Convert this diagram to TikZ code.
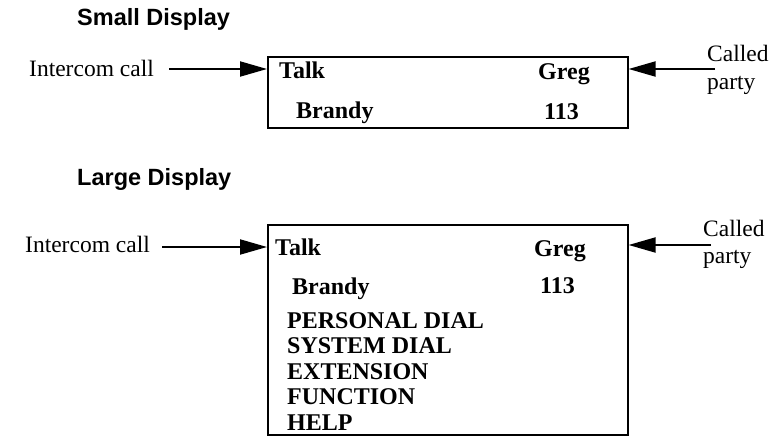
\documentclass[tikz,border=0pt]{standalone}
\usepackage{fontspec}
\setmainfont{Liberation Serif}
\newfontfamily\headfont{Liberation Sans}
\usetikzlibrary{arrows.meta}
\begin{document}
\begin{tikzpicture}[x=1pt,y=-1pt,
  font=\fontsize{23.5}{25}\selectfont,
  heading/.style={anchor=base west,inner sep=0pt,font=\fontsize{23.5}{25}\selectfont\headfont\bfseries},
  label/.style={anchor=base west,inner sep=0pt},
  boxtext/.style={anchor=base west,inner sep=0pt,font=\fontsize{24}{25}\selectfont\bfseries},
  dispbox/.style={draw,line width=1.6pt,anchor=north west,minimum width=360pt,inner sep=0pt},
  callarrow/.style={line width=2pt,-{Triangle[length=27pt,width=15pt]}}]
  \useasboundingbox (0,0) rectangle (777,436);
  \node[heading] (smalltitle) at (77,26) {Small Display};
  \node[dispbox,minimum height=71pt] (smallbox) at (267,56) {};
  \node[label] (smallcall) at (29,77) {Intercom call};
  \node[label] (smallcalled) at (707,62) {Called};
  \node[label] (smallparty) at (707,89) {party};
  \node[boxtext] (smalltalk) at (279,79) {Talk};
  \node[boxtext] (smallname) at (296,118) {Brandy};
  \node[boxtext] (smallgreg) at (538,80) {Greg};
  \node[boxtext] (smallext) at (544,119) {113};
  \coordinate (smallin) at (169,69);
  \coordinate (smallout) at (715,69);
  \draw[callarrow] (smallin) -- (smallin -| smallbox.west);
  \draw[callarrow] (smallout) -- (smallout -| smallbox.east);
  \node[heading] (largetitle) at (77,185) {Large Display};
  \node[dispbox,minimum height=210pt] (largebox) at (267,224) {};
  \node[label] (largecall) at (25,252) {Intercom call};
  \node[label] (largecalled) at (703,236) {Called};
  \node[label] (largeparty) at (703,263) {party};
  \node[boxtext] (largetalk) at (275,255) {Talk};
  \node[boxtext] (largename) at (292,294) {Brandy};
  \node[boxtext] (largegreg) at (534,256) {Greg};
  \node[boxtext] (largeext) at (540,293) {113};
  \foreach \entry [count=\i] in {PERSONAL DIAL,SYSTEM DIAL,EXTENSION,FUNCTION,HELP}
    \node[boxtext] (menu\i) at (287,{328+25.5*(\i-1)}) {\entry};
  \coordinate (largein) at (162,247);
  \coordinate (largeout) at (711,245);
  \draw[callarrow] (largein) -- (largein -| largebox.west);
  \draw[callarrow] (largeout) -- (largeout -| largebox.east);
\end{tikzpicture}
\end{document}
